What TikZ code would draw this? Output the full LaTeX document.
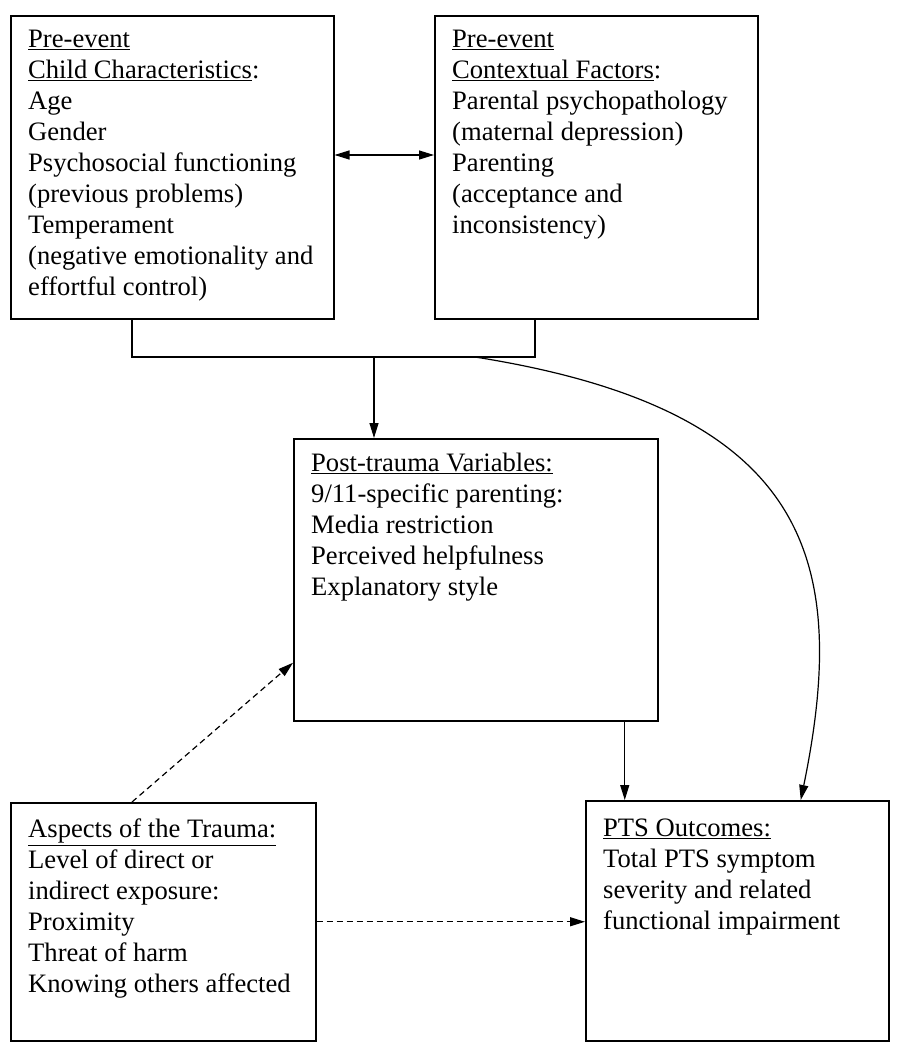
\documentclass[tikz,border=0pt]{standalone}
\usepackage{fontspec}
\setmainfont{Liberation Serif}
\usetikzlibrary{arrows.meta}

\begin{document}
\begin{tikzpicture}
  [x=1pt,y=-1pt,every node/.style={inner sep=0pt},
   >={Triangle[length=15pt,width=9pt]},
   box/.style={draw,line width=1.5pt,anchor=north west},
   txt/.style={anchor=north west,align=left,font=\fontsize{26.6}{31}\selectfont},
   line/.style={line width=1.2pt},
   link/.style={line width=1.2pt,->},
   dlink/.style={link,dash pattern=on 6pt off 4pt}]
  \useasboundingbox (0,0) rectangle (898,1050);

  % boxes
  \foreach \n/\x/\y/\w/\h in {child/10/15/323/303,context/434/15/323/303,
      post/293/438/364/282,trauma/10/802/305/238,pts/585/800/303/240}
    \node[box,minimum width=\w pt,minimum height=\h pt] (\n) at (\x,\y) {};

  % texts
  \node[txt] (childtxt) at (28,30) {\underline{Pre-event}\\
    \underline{Child Characteristics}:\\ Age\\ Gender\\
    Psychosocial functioning\\ (previous problems)\\ Temperament\\
    (negative emotionality and\\ effortful control)};
  \node[txt] (contexttxt) at (452,30) {\underline{Pre-event}\\
    \underline{Contextual Factors}:\\ Parental psychopathology\\
    (maternal depression)\\ Parenting\\ (acceptance and\\ inconsistency)};
  \node[txt] (posttxt) at (311,453) {\underline{Post-trauma Variables:}\\
    9/11-specific parenting:\\ Media restriction\\
    Perceived helpfulness\\ Explanatory style};
  \node[txt] (traumatxt) at (28,819) {\underline{Aspects of the Trauma:}\\
    Level of direct or\\ indirect exposure:\\ Proximity\\
    Threat of harm\\ Knowing others affected};
  \node[txt] (ptstxt) at (603,819) {\underline{PTS Outcomes:}\\
    Total PTS symptom\\ severity and related\\ functional impairment};

  % junction points
  \coordinate (mid) at (383,155);
  \coordinate (jl) at (132,357);
  \coordinate (jr) at (535,357);
  \coordinate (jm) at (374,357);
  \coordinate (jc) at (475,357);

  \draw[link,<->] (child.east |- mid) -- (context.west |- mid);
  \draw[line] (child.south -| jl) -- (jl) -- (jr) -- (context.south -| jr);
  \draw[link] (jm) -- (jm |- post.north);
  \draw[link] (jc) .. controls (810,410) and (850,560) .. ([xshift=63.5pt]pts.north);
  \draw[link] ([xshift=149pt]post.south) -- ([xshift=149pt]post.south |- pts.north);
  \draw[dlink] (trauma.north -| jl) -- ([yshift=-83pt]post.west);
  \draw[dlink] (trauma.east) -- (trauma.east -| pts.west);

\end{tikzpicture}
\end{document}
